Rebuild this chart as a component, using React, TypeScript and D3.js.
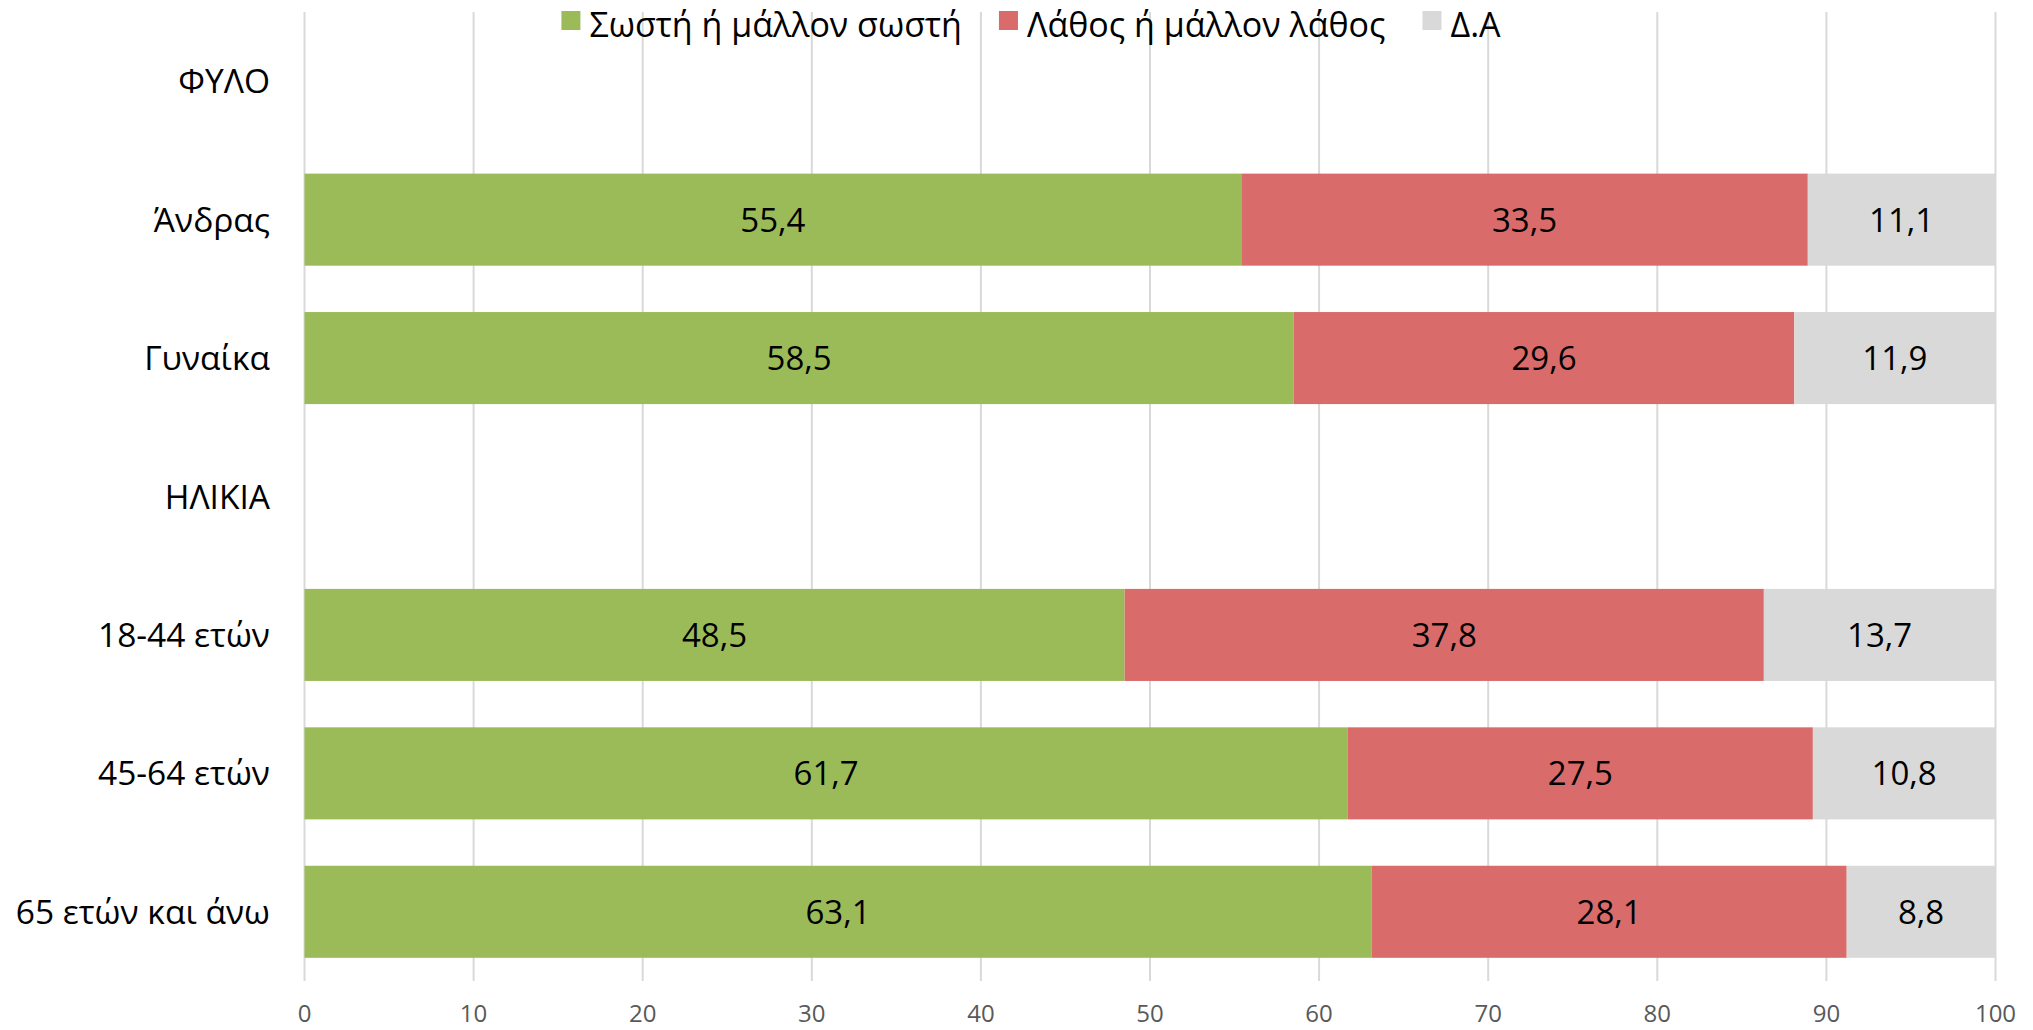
import React, { useEffect, useRef } from 'react';
import * as d3 from 'd3';

// categories (top to bottom), empty rows are group headings
const categories: string[] = ['ΦΥΛΟ', 'Άνδρας', 'Γυναίκα', 'ΗΛΙΚΙΑ', '18-44 ετών', '45-64 ετών', '65 ετών και άνω'];
const seriesNames: string[] = ['Σωστή ή μάλλον σωστή', 'Λάθος ή μάλλον λάθος', 'Δ.Α'];
const correct: (number | null)[] = [null, 55.4, 58.5, null, 48.5, 61.7, 63.1];
const wrong: (number | null)[] = [null, 33.5, 29.6, null, 37.8, 27.5, 28.1];
const dontKnow: (number | null)[] = [null, 11.1, 11.9, null, 13.7, 10.8, 8.8];
const xTicks: number[] = [0, 10, 20, 30, 40, 50, 60, 70, 80, 90, 100];

const colors: string[] = ['#9BBB59', '#DA6B6B', '#D9D9D9'];
const width: number = 2033;
const height: number = 1030;
const font: string = '"Open Sans", "Noto Sans", sans-serif';

export default function App() {
  const ref = useRef<SVGSVGElement>(null);

  useEffect(() => {
    document.body.style.margin = '0';
    const svg: any = d3.select(ref.current);
    svg.selectAll('*').remove();

    const xScale: any = d3.scaleLinear().domain([0, 100]).range([304.5, 1995.5]);
    const yScale: any = d3.scaleBand()
                          .domain(categories)
                          .range([12, 981])
                          .paddingInner(0.335)
                          .paddingOuter(0.1675);

    // gridlines
    svg.append('g')
       .selectAll('line')
       .data(xTicks)
       .enter()
       .append('line')
       .attr('x1', (d: number) => xScale(d))
       .attr('x2', (d: number) => xScale(d))
       .attr('y1', 12)
       .attr('y2', 981)
       .attr('stroke', '#D9D9D9')
       .attr('stroke-width', 2);

    // tick labels
    svg.append('g')
       .selectAll('text')
       .data(xTicks)
       .enter()
       .append('text')
       .attr('x', (d: number) => xScale(d))
       .attr('y', 1013)
       .attr('dy', '0.36em')
       .attr('text-anchor', 'middle')
       .attr('font-family', font)
       .attr('font-size', 24)
       .attr('fill', '#595959')
       .text((d: number) => d);

    // stacked rows
    const rows: any[] = categories.map((c: string, i: number) => ({
      cat: c,
      vals: [correct[i], wrong[i], dontKnow[i]]
    }));

    rows.forEach((row: any) => {
      let acc: number = 0;
      row.vals.forEach((v: number | null, s: number) => {
        if (v === null) return;
        const x0: number = acc;
        acc += v;
        const g: any = svg.append('g');
        g.append('rect')
         .attr('x', xScale(x0))
         .attr('y', yScale(row.cat))
         .attr('width', xScale(acc) - xScale(x0))
         .attr('height', yScale.bandwidth())
         .attr('fill', colors[s]);
        g.append('text')
         .attr('x', (xScale(x0) + xScale(acc)) / 2)
         .attr('y', yScale(row.cat) + yScale.bandwidth() / 2)
         .attr('dy', '0.36em')
         .attr('text-anchor', 'middle')
         .attr('font-family', font)
         .attr('font-size', 33)
         .attr('fill', '#000')
         .text(v.toFixed(1).replace('.', ','));
      });
    });

    // category labels
    svg.append('g')
       .selectAll('text')
       .data(categories)
       .enter()
       .append('text')
       .attr('x', 270)
       .attr('y', (d: string) => yScale(d) + yScale.bandwidth() / 2)
       .attr('dy', '0.36em')
       .attr('text-anchor', 'end')
       .attr('font-family', font)
       .attr('font-size', 33.5)
       .attr('fill', '#000')
       .text((d: string) => d);

    // legend, laid out from measured text widths
    const legend: any = svg.append('g');
    const items: any[] = [];
    seriesNames.forEach((name: string, i: number) => {
      const g: any = legend.append('g');
      g.append('rect')
       .attr('width', 19)
       .attr('height', 19)
       .attr('y', 11)
       .attr('fill', colors[i]);
      const t: any = g.append('text')
       .attr('x', 28)
       .attr('y', 25)
       .attr('dy', '0.36em')
       .attr('font-family', font)
       .attr('font-size', 34)
       .attr('fill', '#000')
       .text(name);
      items.push({ g, w: 28 + t.node().getComputedTextLength() });
    });
    const gap: number = 37;
    const total: number = d3.sum(items, (d: any) => d.w) + gap * (items.length - 1);
    let lx: number = 1031 - total / 2;
    items.forEach((it: any) => {
      it.g.attr('transform', `translate(${lx},0)`);
      lx += it.w + gap;
    });
  }, []);

  return <svg ref={ref} width={width} height={height} style={{ display: 'block' }} />;
}
